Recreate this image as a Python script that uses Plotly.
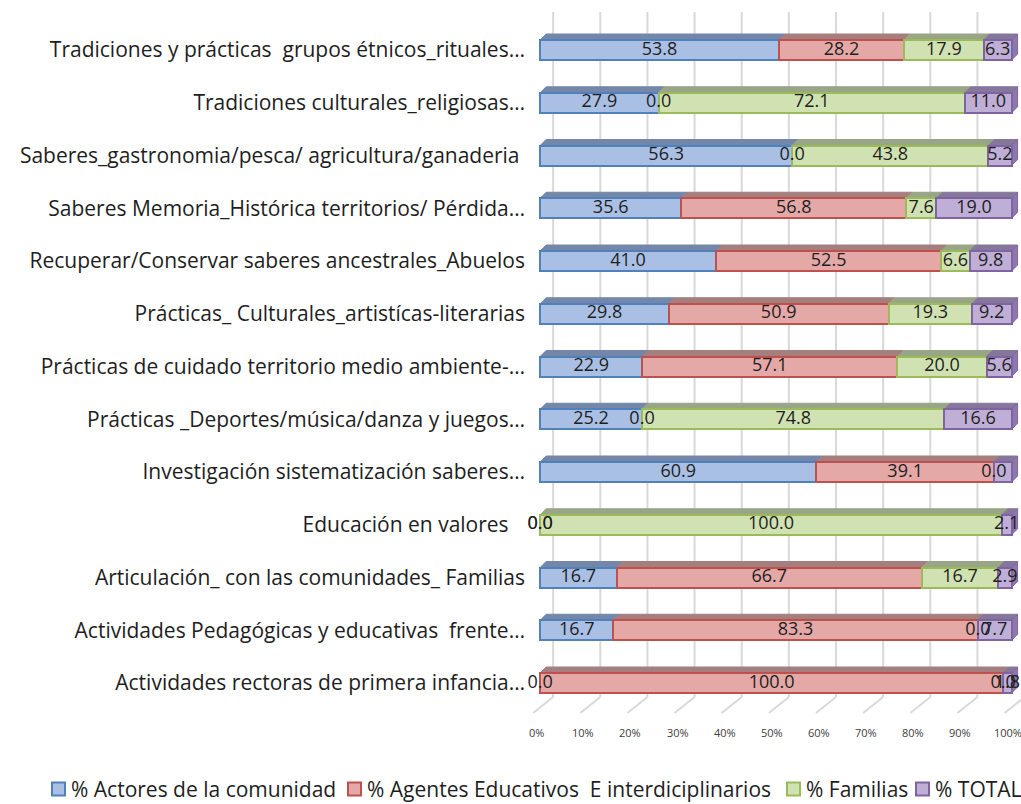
import plotly.graph_objects as go

# ---- data -------------------------------------------------------------
categories = [
    "Tradiciones y prácticas \u00a0grupos étnicos_rituales…",
    "Tradiciones culturales_religiosas…",
    "Saberes_gastronomia/pesca/ agricultura/ganaderia\u00a0",
    "Saberes Memoria_Histórica territorios/ Pérdida…",
    "Recuperar/Conservar saberes ancestrales_Abuelos",
    "Prácticas_ Culturales_artistícas-literarias",
    "Prácticas de cuidado territorio medio ambiente-…",
    "Prácticas _Deportes/música/danza y juegos…",
    "Investigación sistematización saberes…",
    "Educación en valores\u00a0\u00a0\u00a0",
    "Articulación_ con las comunidades_ Familias",
    "Actividades Pedagógicas y educativas \u00a0frente…",
    "Actividades rectoras de primera infancia…",
]
actores = [53.8, 27.9, 56.3, 35.6, 41.0, 29.8, 22.9, 25.2, 60.9, 0.0, 16.7, 16.7, 0.0]
agentes = [28.2, 0.0, 0.0, 56.8, 52.5, 50.9, 57.1, 0.0, 39.1, 0.0, 66.7, 83.3, 100.0]
familias = [17.9, 72.1, 43.8, 7.6, 6.6, 19.3, 20.0, 74.8, 0.0, 100.0, 16.7, 0.0, 0.0]
total = [6.3, 11.0, 5.2, 19.0, 9.8, 9.2, 5.6, 16.6, 3.9, 2.1, 2.9, 7.7, 1.8]
total_labelled = [True] * 8 + [False] + [True] * 4

series_names = ["% Actores de la comunidad", "% Agentes Educativos  E interdiciplinarios",
                "% Familias", "% TOTAL"]
tick_values = [0, 10, 20, 30, 40, 50, 60, 70, 80, 90, 100]
tick_labels = ["0%", "10%", "20%", "30%", "40%", "50%", "60%", "70%", "80%", "90%", "100%"]

# ---- styling ------------------------------------------------------------
face_fill = ["#A9C0E4", "#E4A8A7", "#D0E2B2", "#BFAFD6"]
face_line = ["#4F81BD", "#C0504D", "#9BBB59", "#8064A2"]
top_fill = ["#7487A8", "#A57E7E", "#98A586", "#85769C"]
side_fill = "#8C78AA"
label_font = "Open Sans"

FIG_W, FIG_H = 1021, 804
LEFT, TOP, BOTTOM = 526, 10, 84
X_MIN, X_MAX = -3, 102
ROW_PX = 52.75          # pixel pitch between rows
FIRST_ROW_PX = 50       # centre of the top row
XU = (FIG_W - LEFT) / (X_MAX - X_MIN)   # pixels per percent

n = len(categories)
rows = [n - 1 - i for i in range(n)]


def ypx(px):
    """Convert a vertical pixel position into y-axis units."""
    return (n - 1) - (px - FIRST_ROW_PX) / ROW_PX


y_lo = ypx(FIG_H - BOTTOM)
y_hi = ypx(TOP)

all_series = [actores, agentes, familias, total]
sums = [sum(v) for v in zip(*all_series)]
norm = [[v / s * 100 for v, s in zip(vals, sums)] for vals in all_series]

BAR_W = 20 / ROW_PX
DX = 6 / XU
DY = 6 / ROW_PX

fig = go.Figure()

# front faces of the stacked bars
for k, name in enumerate(series_names):
    fig.add_trace(go.Bar(
        y=rows, x=norm[k], orientation="h", name=name, width=BAR_W,
        marker=dict(color=face_fill[k], line=dict(color=face_line[k], width=2)),
        showlegend=False, hoverinfo="skip",
    ))

shapes = []

# back-wall grid and floor lines
for t in tick_values:
    xb = t + 13 / XU
    xf = t - 7 / XU
    shapes.append(dict(type="line", xref="x", yref="y", x0=xb, x1=xb,
                       y0=ypx(12), y1=ypx(697), layer="below",
                       line=dict(color="#D9D9D9", width=2)))
    shapes.append(dict(type="line", xref="x", yref="y", x0=xb, x1=xf,
                       y0=ypx(697), y1=ypx(713), layer="below",
                       line=dict(color="#D9D9D9", width=2)))

# top faces and right-hand side faces giving the bars depth
for r, row in enumerate(rows):
    base = 0.0
    y_top = row + BAR_W / 2
    y_bot = row - BAR_W / 2
    for k in range(4):
        w = norm[k][r]
        if w > 0:
            x0, x1 = base, base + w
            path = (f"M {x0},{y_top} L {x1},{y_top} L {x1 + DX},{y_top + DY} "
                    f"L {x0 + DX},{y_top + DY} Z")
            shapes.append(dict(type="path", path=path, xref="x", yref="y",
                               fillcolor=top_fill[k], layer="below",
                               line=dict(color=top_fill[k], width=1)))
        base += w
    path = (f"M {base},{y_bot} L {base},{y_top} L {base + DX},{y_top + DY} "
            f"L {base + DX},{y_bot + DY} Z")
    shapes.append(dict(type="path", path=path, xref="x", yref="y",
                       fillcolor=side_fill, layer="below",
                       line=dict(color=face_line[3], width=1)))

# value labels centred on each segment
for k in range(4):
    xs, ys, txt = [], [], []
    for r, row in enumerate(rows):
        if k == 3 and not total_labelled[r]:
            continue
        base = sum(norm[j][r] for j in range(k))
        xs.append(base + norm[k][r] / 2)
        ys.append(row)
        txt.append(f"{all_series[k][r]:.1f}")
    fig.add_trace(go.Scatter(
        x=xs, y=ys, mode="text", text=txt, textposition="middle center",
        textfont=dict(family=label_font, size=18, color="#1E1E1E"),
        showlegend=False, hoverinfo="skip", cliponaxis=False,
    ))

annotations = []
# percentage labels along the floor's front edge
for t, lab in zip(tick_values, tick_labels):
    annotations.append(dict(
        x=t - 4 / XU, y=0, xref="x", yref="paper", yanchor="top", yshift=-3,
        text=lab, showarrow=False,
        font=dict(family=label_font, size=11, color="#404040")))


def paper_x(px):
    return (px - LEFT) / (FIG_W - LEFT)


PLOT_H = FIG_H - TOP - BOTTOM
legend_y = -(789 - (FIG_H - BOTTOM)) / PLOT_H
legend_box_px = [52, 348, 787, 916]
for k, name in enumerate(series_names):
    bx = legend_box_px[k]
    shapes.append(dict(type="rect", xref="paper", yref="paper",
                       x0=paper_x(bx), x1=paper_x(bx + 13),
                       y0=legend_y - 6.5 / PLOT_H,
                       y1=legend_y + 6.5 / PLOT_H,
                       fillcolor=face_fill[k],
                       line=dict(color=face_line[k], width=2)))
    annotations.append(dict(
        x=paper_x(bx + 17), y=legend_y, xref="paper", yref="paper",
        xanchor="left", yanchor="middle", showarrow=False,
        text=name.replace("  ", " \u00a0"),
        font=dict(family=label_font, size=21, color="#1E1E1E")))

fig.update_layout(
    width=FIG_W, height=FIG_H,
    margin=dict(l=LEFT, r=0, t=TOP, b=BOTTOM),
    barmode="stack",
    plot_bgcolor="white", paper_bgcolor="white",
    shapes=shapes, annotations=annotations,
    showlegend=False,
    xaxis=dict(range=[X_MIN, X_MAX], showgrid=False, zeroline=False,
               showticklabels=False, fixedrange=True),
    yaxis=dict(range=[y_lo, y_hi], showgrid=False, zeroline=False,
               tickvals=rows, ticktext=categories, ticks="",
               tickfont=dict(family=label_font, size=21, color="#1E1E1E"),
               automargin=False, fixedrange=True),
)

fig.write_html("out.html")
